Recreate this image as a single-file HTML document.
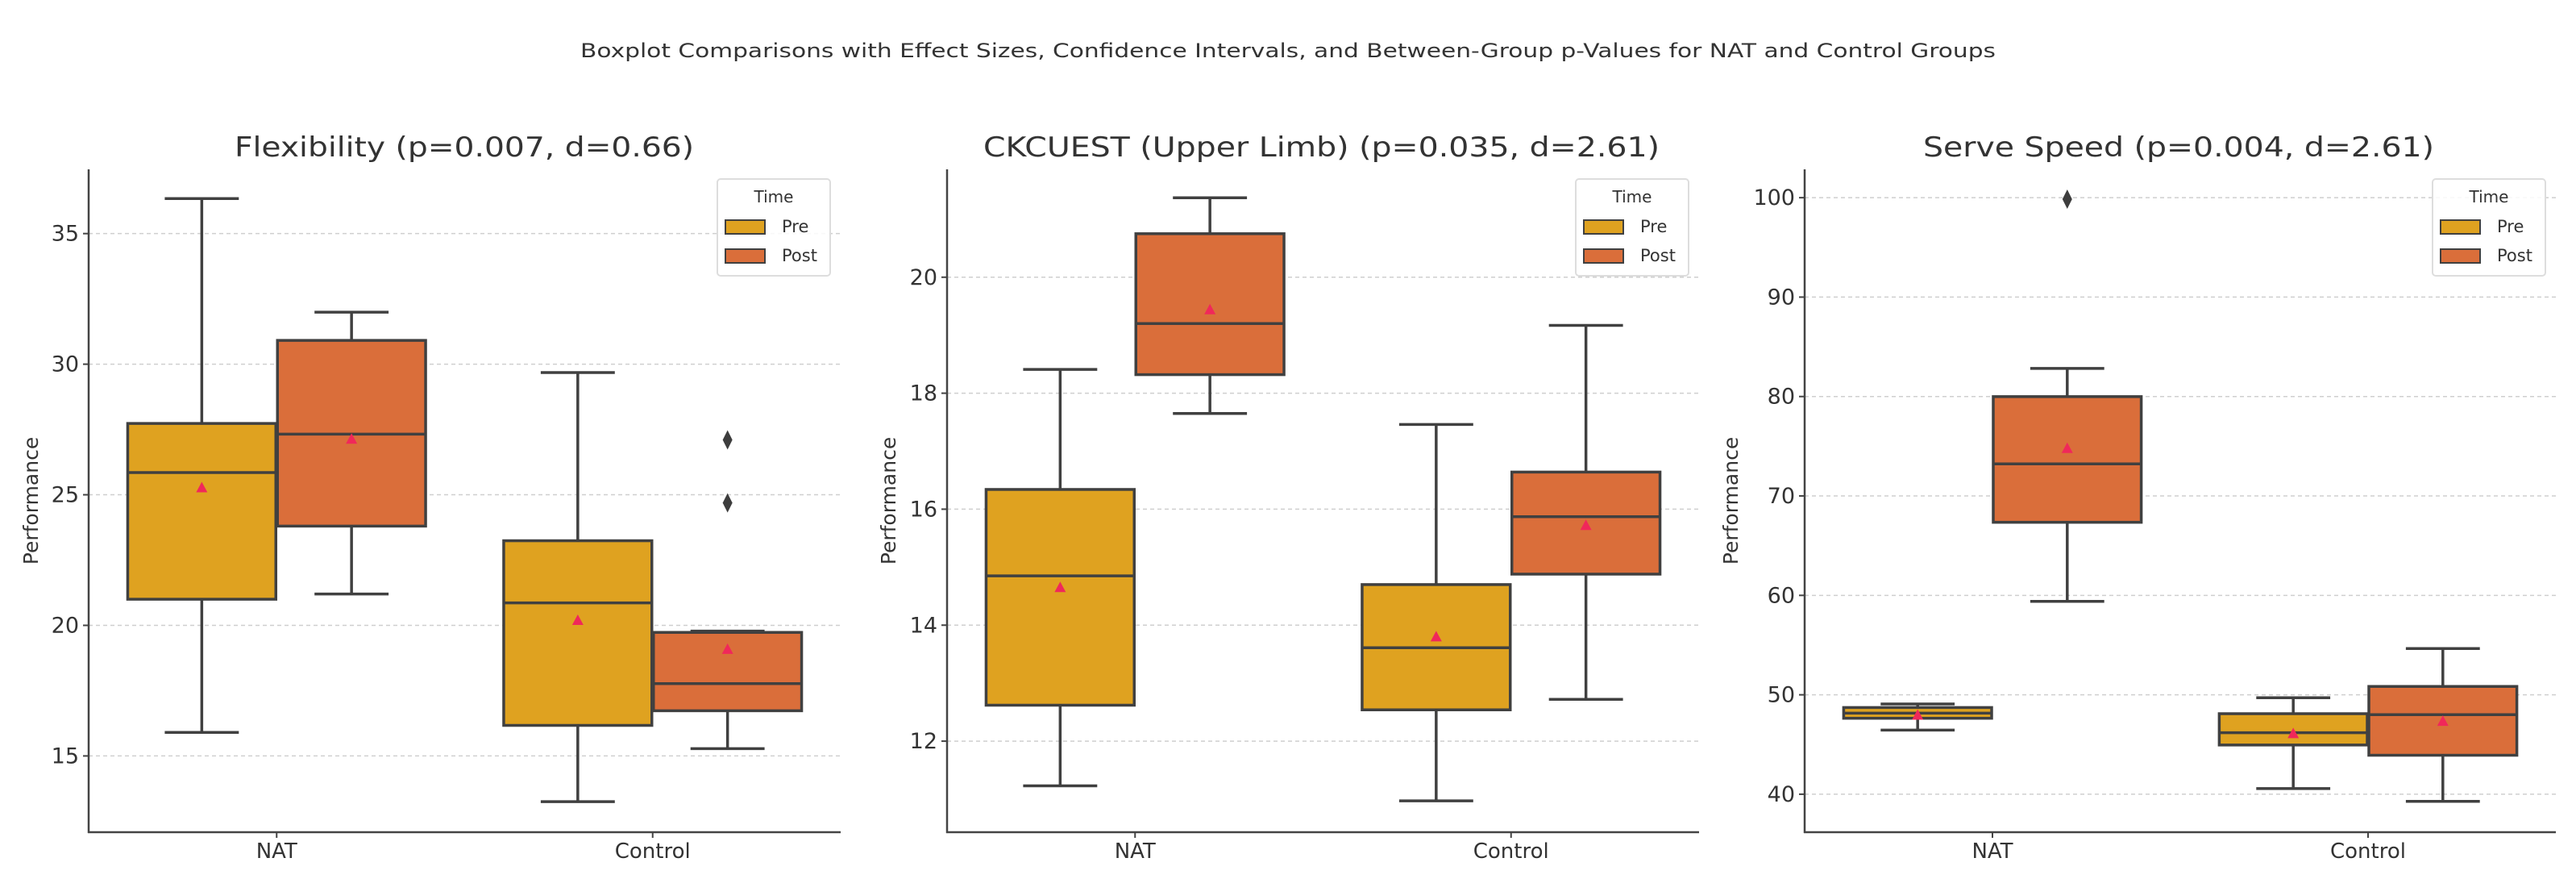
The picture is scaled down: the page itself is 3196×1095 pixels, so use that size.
<!DOCTYPE html>
<html><head><meta charset="utf-8"><style>
html,body{margin:0;padding:0;background:#fff;}
svg{display:block;font-family:"DejaVu Sans","Liberation Sans",sans-serif;}
</style></head><body>
<svg id="fig" width="3196" height="1095" viewBox="0 0 3196 1095" xmlns="http://www.w3.org/2000/svg">
<text x="1598" y="71" text-anchor="middle" font-size="24" fill="#333" textLength="1756" lengthAdjust="spacingAndGlyphs">Boxplot Comparisons with Effect Sizes, Confidence Intervals, and Between-Group p-Values for NAT and Control Groups</text>
</svg>
<script>
const categories = ["NAT", "Control"];
const hues = ["Pre", "Post"];
const titles = ["Flexibility (p=0.007, d=0.66)", "CKCUEST (Upper Limb) (p=0.035, d=2.61)", "Serve Speed (p=0.004, d=2.61)"];
// per panel: [NAT-Pre, NAT-Post, Control-Pre, Control-Post] = [low, q1, median, q3, high, mean]
const flexStats = [[15.9,21.0,25.85,27.73,36.34,25.25],[21.2,23.8,27.32,30.91,31.99,27.11],[13.25,16.17,20.86,23.24,29.68,20.17],[15.28,16.73,17.77,19.73,19.78,19.06]];
const flexOutliers = [[],[],[],[27.1,24.69]];
const ckStats = [[11.23,12.62,14.85,16.34,18.41,14.64],[17.65,18.32,19.2,20.75,21.37,19.43],[10.97,12.54,13.61,14.7,17.46,13.79],[12.72,14.88,15.87,16.64,19.17,15.71]];
const ckOutliers = [[],[],[],[]];
const serveStats = [[46.45,47.64,48.15,48.72,49.08,47.9],[59.4,67.35,73.23,79.99,82.83,74.73],[40.57,44.95,46.19,48.1,49.7,46.04],[39.28,43.92,48.0,50.84,54.65,47.28]];
const serveOutliers = [[],[99.85],[],[]];
const flexTicks = [15,20,25,30,35];
const ckTicks = [12,14,16,18,20];
const serveTicks = [40,50,60,70,80,90,100];
const flexRange = [12.08,37.46];
const ckRange = [10.43,21.86];
const serveRange = [36.18,102.85];

const NS = "http://www.w3.org/2000/svg";
const svgEl = document.getElementById("fig");
function mk(tag, attrs, parent, text){
  const e = document.createElementNS(NS, tag);
  for (const k in attrs) e.setAttribute(k, attrs[k]);
  if (text !== undefined) e.textContent = text;
  (parent || svgEl).appendChild(e);
  return e;
}
const colors = ["#dfa220", "#da6e3a"];
const edge = "#404040";
const panels = [
  {left:110, right:1043, stats:flexStats, out:flexOutliers, ticks:flexTicks, range:flexRange, title:titles[0], tl:[291,861], name:"flexibility", ylx:38},
  {left:1175, right:2108, stats:ckStats, out:ckOutliers, ticks:ckTicks, range:ckRange, title:titles[1], tl:[1220,2059], name:"ckcuest", ylx:1102},
  {left:2239, right:3171, stats:serveStats, out:serveOutliers, ticks:serveTicks, range:serveRange, title:titles[2], tl:[2386,3020], name:"serve-speed", ylx:2147}
];
const plotTop = 210, plotBottom = 1032;
panels.forEach(p => {
  const g = mk("g", {});
  
  
  const y = v => plotBottom - (v - p.range[0]) / (p.range[1] - p.range[0]) * (plotBottom - plotTop);
  const band = (p.right - p.left) / categories.length;
  const cx = i => p.left + band * (i + 0.5);
  const bw = band * 0.394;
  p.ticks.forEach(t => {
    const gl = mk("line", {x1:p.left, x2:p.right, y1:y(t), y2:y(t), stroke:"#cfcfcf", "stroke-width":1.5, "stroke-dasharray":"5,4"}, g);
    
    
    mk("line", {x1:p.left-7, x2:p.left, y1:y(t), y2:y(t), stroke:"#444", "stroke-width":2}, g);
    const tl = mk("text", {x:p.left-12, y:y(t)+9, "text-anchor":"end", "font-size":27, fill:"#333"}, g, String(t));
    
    
  });
  const tt = mk("text", {x:(p.tl[0]+p.tl[1])/2, y:194, "text-anchor":"middle", "font-size":34, fill:"#333", textLength:p.tl[1]-p.tl[0], lengthAdjust:"spacingAndGlyphs"}, g, p.title);
  
  
  const yl = mk("text", {x:0, y:0, "text-anchor":"middle", "font-size":25, fill:"#333", transform:`translate(${p.ylx+9},${(plotTop+plotBottom)/2}) rotate(-90)`}, g, "Performance");
  
  
  p.stats.forEach((s, k) => {
    const ci = Math.floor(k / 2), h = k % 2;
    const xl = h === 0 ? cx(ci) - bw - 1 : cx(ci) + 1;
    const xm = xl + bw / 2;
    const bg = mk("g", {}, g);
    
    
    mk("line", {x1:xm, x2:xm, y1:y(s[4]), y2:y(s[3]), stroke:edge, "stroke-width":3.5}, bg);
    mk("line", {x1:xm, x2:xm, y1:y(s[1]), y2:y(s[0]), stroke:edge, "stroke-width":3.5}, bg);
    mk("line", {x1:xm-bw/4, x2:xm+bw/4, y1:y(s[4]), y2:y(s[4]), stroke:edge, "stroke-width":3.5}, bg);
    mk("line", {x1:xm-bw/4, x2:xm+bw/4, y1:y(s[0]), y2:y(s[0]), stroke:edge, "stroke-width":3.5}, bg);
    mk("rect", {x:xl, y:y(s[3]), width:bw, height:y(s[1])-y(s[3]), fill:colors[h], stroke:edge, "stroke-width":3.5}, bg);
    mk("line", {x1:xl, x2:xl+bw, y1:y(s[2]), y2:y(s[2]), stroke:edge, "stroke-width":3.5}, bg);
    const my = y(s[5]);
    const m = mk("polygon", {points:`${xm},${my-8} ${xm-7},${my+5} ${xm+7},${my+5}`, fill:"#f0285a"}, bg);
    
    
    p.out[k].forEach(o => {
      const oy = y(o);
      const d = mk("polygon", {points:`${xm},${oy-12} ${xm-6},${oy} ${xm},${oy+12} ${xm+6},${oy}`, fill:"#3d3d3d"}, bg);
      
      
    });
  });
  const ls = mk("line", {x1:p.left, x2:p.left, y1:plotTop, y2:plotBottom+1, stroke:"#444", "stroke-width":2.5}, g);
  
  
  const bs = mk("line", {x1:p.left-1, x2:p.right, y1:plotBottom, y2:plotBottom, stroke:"#444", "stroke-width":2.5}, g);
  
  
  categories.forEach((c, i) => {
    mk("line", {x1:cx(i), x2:cx(i), y1:plotBottom, y2:plotBottom+7, stroke:"#444", "stroke-width":2}, g);
    const xt = mk("text", {x:cx(i), y:plotBottom+32, "text-anchor":"middle", "font-size":26, fill:"#333"}, g, c);
    
    
  });
  const lx = p.right - 153, ly = 222;
  const lg = mk("g", {}, g);
  
  
  mk("rect", {x:lx, y:ly, width:140, height:120, rx:4, fill:"#fff", "fill-opacity":0.85, stroke:"#dddddd", "stroke-width":2}, lg);
  mk("text", {x:lx+70, y:ly+29, "text-anchor":"middle", "font-size":20, fill:"#333"}, lg, "Time");
  hues.forEach((h, i) => {
    const e = mk("g", {}, lg);
    
    
    mk("rect", {x:lx+10, y:ly+51+i*36, width:49, height:17, fill:colors[i], stroke:edge, "stroke-width":2}, e);
    mk("text", {x:lx+80, y:ly+66+i*36, "font-size":21, fill:"#333"}, e, h);
  });
});
</script>
</body></html>
